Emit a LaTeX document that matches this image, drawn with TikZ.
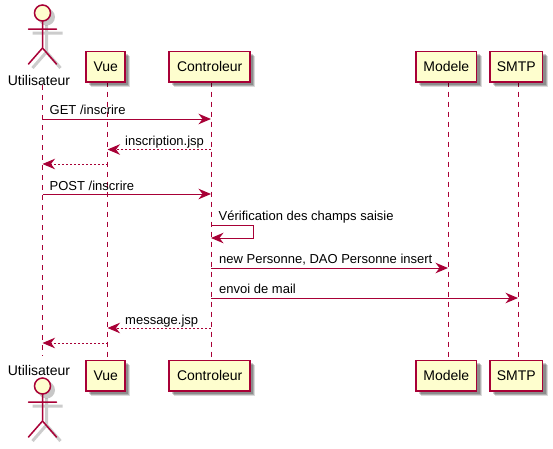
\documentclass[tikz,border=0pt]{standalone}
\usepackage{fontspec}
\setmainfont{Liberation Sans}
\usetikzlibrary{arrows.meta,shadows}
\definecolor{umlline}{HTML}{A80036}
\definecolor{umlfill}{HTML}{FEFECE}
\tikzset{
  x=1pt,y=-1pt,
  part/.style={draw=umlline,fill=umlfill,line width=1.5pt,minimum height=30.5pt,inner sep=0pt,anchor=center,font=\fontsize{14}{16}\selectfont,
    general shadow={shadow xshift=5.2pt,shadow yshift=-5.2pt,fill=black,fill opacity=.14},
    general shadow={shadow xshift=4.2pt,shadow yshift=-4.2pt,fill=black,fill opacity=.2},
    general shadow={shadow xshift=3.2pt,shadow yshift=-3.2pt,fill=black,fill opacity=.2}},
  actorlabel/.style={font=\fontsize{14}{16}\selectfont,inner sep=0pt,anchor=center},
  life/.style={draw=umlline,line width=1pt,dash pattern=on 5pt off 5pt},
  msg/.style={draw=umlline,line width=1pt,-{Stealth[length=12.5pt,width=10.5pt,inset=4pt,fill=umlline]}},
  reply/.style={msg,dash pattern=on 2pt off 2pt},
  msglabel/.style={font=\fontsize{13}{15}\selectfont,inner sep=0pt,anchor=base west,text=black},
  stick/.style={draw=umlline,line width=1.5pt,line cap=round},
  stickshadow/.style={draw=black,draw opacity=.2,line width=3pt},
  headshadow/.style={fill=black,fill opacity=.22,draw=none},
}
\newcommand{\stickman}[2]{%
  \begin{scope}[shift={(#1,#2)}]
    \fill[headshadow] (4,4) circle[radius=8.5];
    \draw[stickshadow] (4,12) -- (4,39) (-10,20) -- (20,20) (4,39) -- (-10,55) (4,39) -- (18,55);
    \draw[stick,fill=umlfill] (0,0) circle[radius=8];
    \draw[stick] (0,8) -- (0,35) (-14,16) -- (14,16) (0,35) -- (-14,51) (0,35) -- (14,51);
  \end{scope}}
\begin{document}
\begin{tikzpicture}
\useasboundingbox (0,0) rectangle (553,448);
% lifelines
\coordinate (utop) at (42.5,85);
\coordinate (ubot) at (42.5,356);
\coordinate (vtop) at (107.5,81.5);
\coordinate (vbot) at (107.5,360.5);
\coordinate (ctop) at (211,81.5);
\coordinate (cbot) at (211,360.5);
\coordinate (mtop) at (448,81.5);
\coordinate (mbot) at (448,360.5);
\coordinate (stop) at (518,81.5);
\coordinate (sbot) at (518,360.5);
\draw[life] (utop) -- (ubot);
\draw[life] (vtop) -- (vbot);
\draw[life] (ctop) -- (cbot);
\draw[life] (mtop) -- (mbot);
\draw[life] (stop) -- (sbot);
\node[part,minimum width=39pt] (vue1) at (105.7,66.5) {Vue};
\node[part,minimum width=39pt] (vue2) at (105.7,375.5) {Vue};
\node[part,minimum width=81pt] (con1) at (209.7,66.5) {Controleur};
\node[part,minimum width=81pt] (con2) at (209.7,375.5) {Controleur};
\node[part,minimum width=60.5pt] (mod1) at (446.3,66.5) {Modele};
\node[part,minimum width=60.5pt] (mod2) at (446.3,375.5) {Modele};
\node[part,minimum width=52.5pt] (smt1) at (516.3,66.5) {SMTP};
\node[part,minimum width=52.5pt] (smt2) at (516.3,375.5) {SMTP};
% actors
\stickman{42.5}{13}
\stickman{42.5}{386}
\node[actorlabel] (actortop) at (39,80) {Utilisateur};
\node[actorlabel] (actorbot) at (39,370) {Utilisateur};
% message anchors
\foreach \n/\x in {u/42.5,v/107.5,c/211,m/448,s/518}{
  \foreach \k/\y in {a/119,b/149.5,d/164,e/194,f/225,g/238,h/268,i/298,j/328,k/343}{
    \coordinate (p\n\k) at (\x,\y);
  }
}
\draw[msg] (pua) -- (pca);
\node[msglabel] (l1) at (49.5,114.5) {GET /inscrire};
\draw[reply] (pcb) -- (pvb);
\node[msglabel] (l2) at (125,145) {inscription.jsp};
\draw[reply] (pvd) -- (pud);
\draw[msg] (pue) -- (pce);
\node[msglabel] (l3) at (49.5,190) {POST /inscrire};
\draw[msg] (pcf) -- ++(42.5,0) |- (pcg);
\node[msglabel] (l4) at (218.5,220) {Vérification des champs saisie};
\draw[msg] (pch) -- (pmh);
\node[msglabel] (l5) at (219,263.5) {new Personne, DAO Personne insert};
\draw[msg] (pci) -- (psi);
\node[msglabel] (l6) at (219,293.5) {envoi de mail};
\draw[reply] (pcj) -- (pvj);
\node[msglabel] (l7) at (125,324) {message.jsp};
\draw[reply] (pvk) -- (puk);
\end{tikzpicture}
\end{document}
